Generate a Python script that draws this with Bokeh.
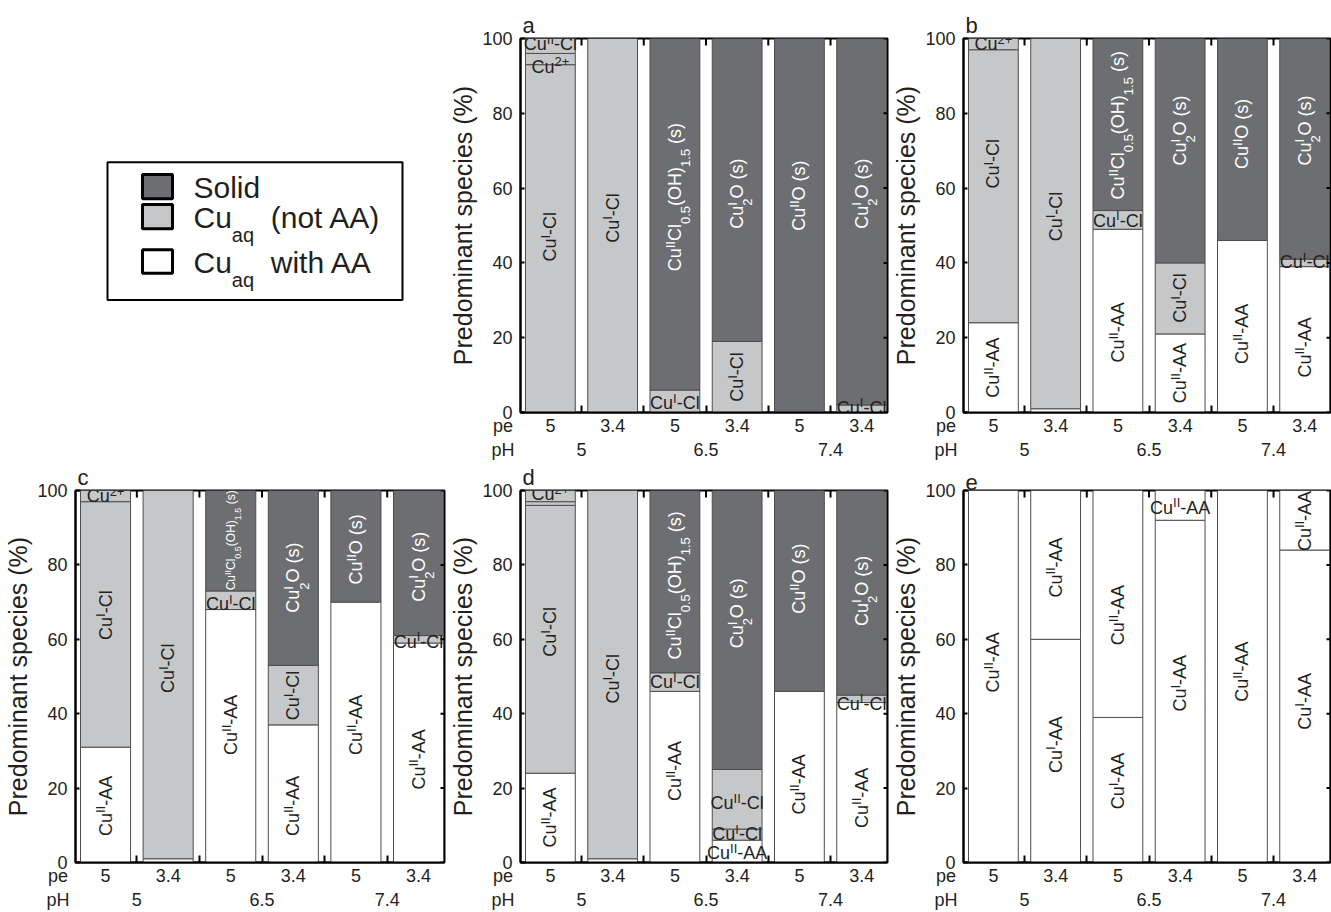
import math
from bokeh.plotting import figure
from bokeh.models import ColumnDataSource, Range1d, LinearAxis, FixedTicker
from bokeh.layouts import row, column
from bokeh.embed import file_html
from bokeh.resources import INLINE
from bokeh.core.properties import value

# ---------------- data ----------------
PE_LABELS = ["5", "3.4", "5", "3.4", "5", "3.4"]
PH_LABELS = ["5", "6.5", "7.4"]
Y_TICKS = [0, 20, 40, 60, 80, 100]

# panel a (no AA)
A_BAR = [0, 0, 0, 1, 2, 2, 3, 3, 4, 5, 5]
A_PCT = [93, 3, 4, 100, 6, 94, 19, 81, 100, 2, 98]
A_PHASE = ["aq", "aq", "aq", "aq", "aq", "solid", "aq", "solid", "solid", "aq", "solid"]
A_NAME = ["Cu^{I}-Cl", "Cu^{2+}", "Cu^{II}-Cl", "Cu^{I}-Cl", "Cu^{I}-Cl",
          "Cu^{II}Cl_{0.5}(OH)_{1.5} (s)", "Cu^{I}-Cl", "Cu^{I}_{2}O (s)",
          "Cu^{II}O (s)", "Cu^{I}-Cl", "Cu^{I}_{2}O (s)"]

# panel b
B_BAR = [0, 0, 0, 1, 1, 2, 2, 2, 3, 3, 3, 4, 4, 5, 5, 5]
B_PCT = [24, 73, 3, 1, 99, 49, 5, 46, 21, 19, 60, 46, 54, 39, 2, 59]
B_PHASE = ["AA", "aq", "aq", "AA", "aq", "AA", "aq", "solid", "AA", "aq", "solid",
           "AA", "solid", "AA", "aq", "solid"]
B_NAME = ["Cu^{II}-AA", "Cu^{I}-Cl", "Cu^{2+}", "", "Cu^{I}-Cl",
          "Cu^{II}-AA", "Cu^{I}-Cl", "Cu^{II}Cl_{0.5}(OH)_{1.5} (s)",
          "Cu^{II}-AA", "Cu^{I}-Cl", "Cu^{I}_{2}O (s)",
          "Cu^{II}-AA", "Cu^{II}O (s)",
          "Cu^{II}-AA", "Cu^{I}-Cl", "Cu^{I}_{2}O (s)"]

# panel c
C_BAR = [0, 0, 0, 1, 1, 2, 2, 2, 3, 3, 3, 4, 4, 5, 5, 5]
C_PCT = [31, 66, 3, 1, 99, 68, 5, 27, 37, 16, 47, 70, 30, 59, 2, 39]
C_PHASE = ["AA", "aq", "aq", "AA", "aq", "AA", "aq", "solid", "AA", "aq", "solid",
           "AA", "solid", "AA", "aq", "solid"]
C_NAME = ["Cu^{II}-AA", "Cu^{I}-Cl", "Cu^{2+}", "", "Cu^{I}-Cl",
          "Cu^{II}-AA", "Cu^{I}-Cl", "Cu^{II}Cl_{0.5}(OH)_{1.5} (s)",
          "Cu^{II}-AA", "Cu^{I}-Cl", "Cu^{I}_{2}O (s)",
          "Cu^{II}-AA", "Cu^{II}O (s)",
          "Cu^{II}-AA", "Cu^{I}-Cl", "Cu^{I}_{2}O (s)"]

# panel d
D_BAR = [0, 0, 0, 0, 1, 1, 2, 2, 2, 3, 3, 3, 3, 4, 4, 5, 5, 5]
D_PCT = [24, 72, 1, 3, 1, 99, 46, 5, 49, 6, 3, 16, 75, 46, 54, 43, 2, 55]
D_PHASE = ["AA", "aq", "aq", "aq", "AA", "aq", "AA", "aq", "solid",
           "AA", "aq", "aq", "solid", "AA", "solid", "AA", "aq", "solid"]
D_NAME = ["Cu^{II}-AA", "Cu^{I}-Cl", "", "Cu^{2+}", "", "Cu^{I}-Cl",
          "Cu^{II}-AA", "Cu^{I}-Cl", "Cu^{II}Cl_{0.5}(OH)_{1.5} (s)",
          "Cu^{II}-AA", "Cu^{I}-Cl", "Cu^{II}-Cl", "Cu^{I}_{2}O (s)",
          "Cu^{II}-AA", "Cu^{II}O (s)",
          "Cu^{II}-AA", "Cu^{I}-Cl", "Cu^{I}_{2}O (s)"]

# panel e
E_BAR = [0, 1, 1, 2, 2, 3, 3, 4, 5, 5]
E_PCT = [100, 60, 40, 39, 61, 92, 8, 100, 84, 16]
E_PHASE = ["AA"] * 10
E_NAME = ["Cu^{II}-AA", "Cu^{I}-AA", "Cu^{II}-AA", "Cu^{I}-AA", "Cu^{II}-AA",
          "Cu^{I}-AA", "Cu^{II}-AA", "Cu^{II}-AA", "Cu^{I}-AA", "Cu^{II}-AA"]

LEGEND_LABELS = ["Solid", "Cu_{aq}  (not AA)", "Cu_{aq}  with AA"]
LEGEND_PHASES = ["solid", "aq", "AA"]

# ---------------- style ----------------
FONT = "Liberation Sans"
INK = "#231f20"
PHASE_COLOR = {"solid": "#6d6e71", "aq": "#c6c7c9", "AA": "#ffffff"}
NBSP = "\u00a0"

# label anchor heights (in % units) and orientation per segment
A_LY = [47, 92.5, 98.6, 52, 2.5, 57.6, 9.5, 58.5, 58, 1.3, 58.5]
B_LY = [12, 66.5, 98.5, None, 52.4, 21.4, 51.3, 76.8, 10.5, 30.6, 75.4, 21, 74.5, 17.4, 40.2, 75.4]
C_LY = [15.2, 66.5, 98.5, None, 52.2, 37, 69.5, 86.6, 15.2, 44.9, 76.6, 37, 84.2, 27.7, 59.4, 79.5]
D_LY = [12.1, 62, None, 99, None, 49.4, 24.6, 48.5, 74.5, 2.6, 7.6, 16, 67, 21, 76.3, 17.4, 42.7, 73]
E_LY = [53.8, 31.7, 79.3, 21.9, 66.5, 48.2, 95.4, 51.3, 43.3, 91.8]
A_HZ = {1, 2, 4, 9}
B_HZ = {2, 6, 14}
C_HZ = {2, 6, 14}
D_HZ = {3, 7, 9, 10, 11, 16}
E_HZ = {6}
C_FS = {7: 12}

AW = {'C': 722, 'u': 556, '-': 333, 'l': 222, 'I': 278, 'A': 667, 'O': 778, '(': 333,
      ')': 333, 's': 500, ' ': 278, '0': 556, '.': 278, '5': 556, '1': 556, '2': 556,
      '+': 584, 'H': 722, 'a': 556, 'q': 556, 'n': 556, 'o': 556, 't': 278, 'w': 722,
      'i': 222, 'h': 556, 'S': 667, 'd': 556}


def parse(markup):
    pieces, buf, i = [], "", 0
    while i < len(markup):
        c = markup[i]
        if c in "^_" and i + 1 < len(markup) and markup[i + 1] == "{":
            if buf:
                pieces.append((buf, "n"))
                buf = ""
            j = markup.index("}", i)
            pieces.append((markup[i + 2:j], "sup" if c == "^" else "sub"))
            i = j + 1
        else:
            buf += c
            i += 1
    if buf:
        pieces.append((buf, "n"))
    return pieces


def tw(s, fs):
    return sum(AW.get(ch, 556) for ch in s) / 1000.0 * fs


def rich_rows(x, y, markup, fs, color, vertical, align="center",
              small=0.72, sup_shift=0.26, sub_shift=-0.6):
    pieces = parse(markup)
    sizes = [fs if m == "n" else int(round(fs * small)) for t, m in pieces]
    widths = [tw(t, s) for (t, m), s in zip(pieces, sizes)]
    # layout: a subscript right after a superscript is stacked under it
    starts, d, prev = [], 0.0, None
    for k, ((t, m), w) in enumerate(zip(pieces, widths)):
        if m == "sub" and prev == "sup":
            st = starts[-1]
            d = st + max(widths[k - 1], w)
        else:
            st = d
            d = d + w
        starts.append(st)
        prev = m
    total = d
    shift0 = -total / 2 if align == "center" else 0.0
    rows = []
    for (t, m), s, st in zip(pieces, sizes, starts):
        lead = len(t) - len(t.lstrip(" "))
        d0 = shift0 + st + tw(" " * lead, s)
        txt = t.strip(" ")
        pp = sup_shift * fs if m == "sup" else (sub_shift * fs if m == "sub" else 0.0)
        if vertical:
            xo, yo, ang = -pp, -d0, math.pi / 2
        else:
            xo, yo, ang = d0, -pp, 0.0
        rows.append(dict(x=x, y=y, text=txt, size=s, color=color,
                         xo=xo, yo=yo, angle=ang))
    return rows


def add_text_rows(p, rows):
    for s in sorted(set(r["size"] for r in rows)):
        sub = [r for r in rows if r["size"] == s]
        data = {k: [r[k] for r in sub] for k in ("x", "y", "text", "color", "xo", "yo", "angle")}
        p.text(x="x", y="y", text="text", text_font=value(FONT),
               text_font_size=value("%dpx" % s), text_color="color", angle="angle",
               x_offset="xo", y_offset="yo", text_align="left", text_baseline="middle",
               source=ColumnDataSource(data))


def style_axis(ax):
    ax.axis_line_width = 2
    ax.axis_line_color = "black"
    ax.major_label_text_font = FONT
    ax.major_label_text_font_size = "18px"
    ax.major_label_text_color = INK
    ax.minor_tick_line_width = 2
    ax.minor_tick_line_color = "black"
    ax.major_tick_line_width = 2
    ax.major_tick_line_color = "black"


def make_panel(letter, bars, pcts, phases, names, label_y, horiz, fs_over,
               width, height, bl, br, bt, bb):
    bottoms, tops, cum = [], [], {}
    for b, v in zip(bars, pcts):
        s = cum.get(b, 0)
        bottoms.append(s)
        tops.append(s + v)
        cum[b] = s + v

    x0, x1 = -0.48, 5.415
    p = figure(width=width, height=height, x_range=Range1d(x0, x1),
               y_range=Range1d(0, 100), output_backend="svg", toolbar_location=None,
               min_border_left=bl, min_border_right=br, min_border_top=bt,
               min_border_bottom=bb, title=letter)
    p.outline_line_color = "black"
    p.outline_line_width = 2
    p.xgrid.visible = False
    p.ygrid.visible = False
    p.title.text_font = FONT
    p.title.text_font_size = "22px"
    p.title.text_font_style = "normal"
    p.title.text_color = INK
    p.title.align = "left"
    p.title.offset = 2
    p.title.standoff = 1

    src = ColumnDataSource(dict(x=bars, bottom=bottoms, top=tops,
                                color=[PHASE_COLOR[ph] for ph in phases]))
    p.vbar(x="x", width=0.8, bottom="bottom", top="top", fill_color="color",
           line_color="#4d4d4d", line_width=1, source=src)

    rows = []
    for i, name in enumerate(names):
        if not name or label_y[i] is None:
            continue
        col = "white" if phases[i] == "solid" else INK
        fs = fs_over.get(i, 18)
        rows += rich_rows(bars[i], label_y[i], name, fs, col, vertical=(i not in horiz))
    add_text_rows(p, rows)

    centers = list(range(len(PE_LABELS)))
    halves = [c + 0.5 for c in centers[:-1]]
    edge = x0 + 0.001

    # inward ticks on the right and top frame edges
    p.ray(x=[x1] * len(Y_TICKS), y=Y_TICKS, length=4, length_units="screen",
          angle=math.pi, line_color="black", line_width=2)
    p.ray(x=halves, y=[100] * len(halves), length=7, length_units="screen",
          angle=-math.pi / 2, line_color="black", line_width=2)

    ya = p.yaxis[0]
    style_axis(ya)
    ya.ticker = FixedTicker(ticks=Y_TICKS)
    ya.major_tick_in = 4
    ya.major_tick_out = 0
    ya.minor_tick_in = 0
    ya.minor_tick_out = 0
    ya.major_label_standoff = 8
    ya.axis_label = "Predominant species (%)"
    ya.axis_label_text_font = FONT
    ya.axis_label_text_font_size = "25px"
    ya.axis_label_text_font_style = "normal"
    ya.axis_label_text_color = INK
    ya.axis_label_standoff = 2

    # pe row (with its row header at the frame's left edge)
    xa = p.xaxis[0]
    style_axis(xa)
    xa.ticker = FixedTicker(ticks=[edge] + centers, minor_ticks=halves)
    xa.major_tick_in = 0
    xa.major_tick_out = 0
    xa.minor_tick_in = 7
    xa.minor_tick_out = 0
    ov = {c: PE_LABELS[c] for c in centers}
    ov[edge] = "pe" + NBSP * 7
    xa.major_label_overrides = ov
    xa.major_label_standoff = 3

    # pH row
    pha = LinearAxis(ticker=FixedTicker(ticks=[edge, 0.5, 2.5, 4.5]))
    style_axis(pha)
    pha.axis_line_color = None
    pha.major_tick_in = 0
    pha.major_tick_out = 0
    pha.minor_tick_in = 0
    pha.minor_tick_out = 0
    ovh = {edge: "pH" + NBSP * 7}
    for k, lab in enumerate(PH_LABELS):
        ovh[2 * k + 0.5] = lab
    pha.major_label_overrides = ovh
    pha.major_label_standoff = 1
    p.add_layout(pha, "below")
    return p


def make_legend(width, height):
    p = figure(width=width, height=height, x_range=Range1d(0, width),
               y_range=Range1d(height, 0), output_backend="svg", toolbar_location=None,
               min_border=0, x_axis_location=None, y_axis_location=None)
    p.outline_line_color = None
    p.xgrid.visible = False
    p.ygrid.visible = False
    p.quad(left=[107], right=[402], top=[153], bottom=[323], fill_color=None,
           line_color="black", line_width=2)
    tops = [168, 205, 261]
    bots = [198, 235, 290]
    p.quad(left=[142] * 3, right=[172] * 3, top=tops, bottom=bots,
           fill_color=[PHASE_COLOR[ph] for ph in LEGEND_PHASES],
           line_color="black", line_width=3)
    rows = []
    for lab, t, b in zip(LEGEND_LABELS, tops, bots):
        rows += rich_rows(193, (t + b) / 2.0 + 1, lab, 30, INK, vertical=False, align="left",
                          small=0.66, sub_shift=-0.58)
    add_text_rows(p, rows)
    return p


TOP_H, BOT_H = 462, 450
leg = make_legend(446, TOP_H)
pa = make_panel("a", A_BAR, A_PCT, A_PHASE, A_NAME, A_LY, A_HZ, {}, 443, TOP_H, 72, 2, 38, 50)
pb = make_panel("b", B_BAR, B_PCT, B_PHASE, B_NAME, B_LY, B_HZ, {}, 442, TOP_H, 73, 1, 38, 50)
pc = make_panel("c", C_BAR, C_PCT, C_PHASE, C_NAME, C_LY, C_HZ, C_FS, 446, BOT_H, 75, 2, 28, 50)
pd = make_panel("d", D_BAR, D_PCT, D_PHASE, D_NAME, D_LY, D_HZ, {}, 443, BOT_H, 72, 2, 28, 50)
pe = make_panel("e", E_BAR, E_PCT, E_PHASE, E_NAME, E_LY, E_HZ, {}, 442, BOT_H, 73, 1, 28, 50)

layout = column(row(leg, pa, pb), row(pc, pd, pe))
open("out.html", "w").write(file_html(layout, INLINE))
